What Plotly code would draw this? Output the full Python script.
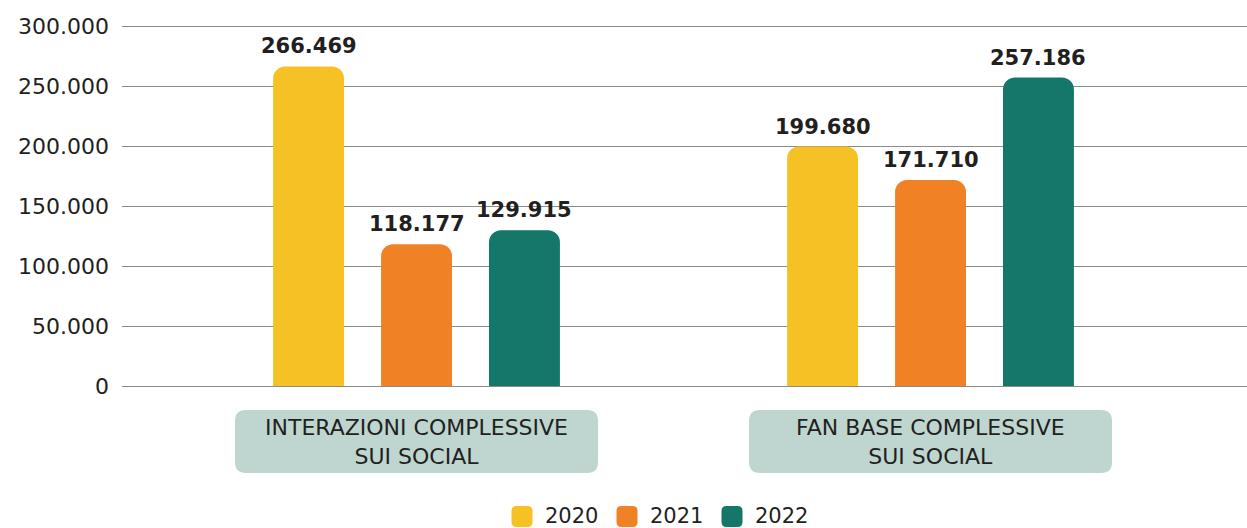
import plotly.graph_objects as go

# ---- data -------------------------------------------------------------
categories = ["INTERAZIONI COMPLESSIVE<br>SUI SOCIAL", "FAN BASE COMPLESSIVE<br>SUI SOCIAL"]
years = ["2020", "2021", "2022"]
values_2020 = [266469, 199680]
values_2021 = [118177, 171710]
values_2022 = [129915, 257186]
y_ticks = [0, 50000, 100000, 150000, 200000, 250000, 300000]

series = [values_2020, values_2021, values_2022]
colors = ["#F5C124", "#F08125", "#15766A"]

# ---- geometry --------------------------------------------------------
W, H = 1247, 528
ML, MR, MT, MB = 122, 0, 25, 142
PW, PH = W - ML - MR, H - MT - MB
X_RANGE = [-0.573, 1.6157]
Y_RANGE = [0, 301000]
BARGAP, BARGROUPGAP = 0.37, 0.343
TEXT = "#231f20"
FONT = "DejaVu Sans"

x_pos = list(range(len(categories)))
x_unit_px = PW / (X_RANGE[1] - X_RANGE[0])


def px_to_paper_x(px):
    return (px - ML) / PW


def px_to_paper_y(py):
    return (H - MB - py) / PH


def rounded_rect(x0, x1, y0, y1, rx, ry):
    """Rounded rectangle path (Q curves) in whatever units the shape uses."""
    return (
        f"M{x0 + rx},{y0} L{x1 - rx},{y0} Q{x1},{y0} {x1},{y0 + ry} "
        f"L{x1},{y1 - ry} Q{x1},{y1} {x1 - rx},{y1} "
        f"L{x0 + rx},{y1} Q{x0},{y1} {x0},{y1 - ry} "
        f"L{x0},{y0 + ry} Q{x0},{y0} {x0 + rx},{y0} Z"
    )


fig = go.Figure()
for name, vals, col in zip(years, series, colors):
    fig.add_trace(go.Bar(
        x=x_pos, y=vals, name=name,
        marker=dict(color=col, cornerradius=12, line=dict(width=0)),
        showlegend=False, hoverinfo="skip",
    ))

# value labels above each bar
slot = (1 - BARGAP) / len(series)
annotations = []
for j, vals in enumerate(series):
    off = (j - (len(series) - 1) / 2) * slot
    for i, v in enumerate(vals):
        annotations.append(dict(
            x=x_pos[i] + off, y=v, xref="x", yref="y",
            text=f"<b>{v:,}</b>".replace(",", "."),
            showarrow=False, yanchor="bottom", yshift=6,
            font=dict(family=FONT, size=21, color=TEXT),
        ))

# category label boxes
shapes = []
box_half = 181.5 / x_unit_px
by0, by1 = px_to_paper_y(473), px_to_paper_y(410)
r = 11
for i, cat in enumerate(categories):
    shapes.append(dict(
        type="path", xref="x", yref="paper",
        path=rounded_rect(x_pos[i] - box_half, x_pos[i] + box_half, by0, by1,
                          r / x_unit_px, r / PH),
        fillcolor="#BFD6D0", line=dict(width=0), layer="below",
    ))
    annotations.append(dict(
        x=x_pos[i], y=(by0 + by1) / 2, xref="x", yref="paper",
        text=cat, showarrow=False, xanchor="center", yanchor="middle",
        font=dict(family=FONT, size=22, color=TEXT), align="center",
    ))

# legend row at the bottom
leg_x0, leg_step, sq = 511.5, 105, 21
leg_top = 506
for j, (name, col) in enumerate(zip(years, colors)):
    x0 = leg_x0 + j * leg_step
    shapes.append(dict(
        type="path", xref="paper", yref="paper",
        path=rounded_rect(px_to_paper_x(x0), px_to_paper_x(x0 + sq),
                          px_to_paper_y(leg_top + sq), px_to_paper_y(leg_top),
                          5 / PW, 5 / PH),
        fillcolor=col, line=dict(width=0),
    ))
    annotations.append(dict(
        x=px_to_paper_x(x0 + sq + 11), y=px_to_paper_y(leg_top + 9.5),
        xref="paper", yref="paper", text=name, showarrow=False,
        xanchor="left", yanchor="middle", borderpad=0,
        font=dict(family=FONT, size=21, color=TEXT),
    ))

fig.update_layout(
    width=W, height=H,
    margin=dict(l=ML, r=MR, t=MT, b=MB, pad=0),
    paper_bgcolor="white", plot_bgcolor="white",
    barmode="group", bargap=BARGAP, bargroupgap=BARGROUPGAP,
    separators=",.",
    showlegend=False,
    font=dict(family=FONT, color=TEXT),
    xaxis=dict(range=X_RANGE, showticklabels=False, showgrid=False,
               zeroline=False, showline=False, fixedrange=True),
    yaxis=dict(range=Y_RANGE, tickvals=y_ticks, tickformat=",d",
               showgrid=True, gridcolor="#8C8C8C", gridwidth=1.3,
               zeroline=True, zerolinecolor="#8C8C8C", zerolinewidth=1.3,
               showline=False, ticks="", ticklabelstandoff=12,
               tickfont=dict(family=FONT, size=22, color=TEXT)),
    shapes=shapes,
    annotations=annotations,
)

fig.write_html("out.html")
